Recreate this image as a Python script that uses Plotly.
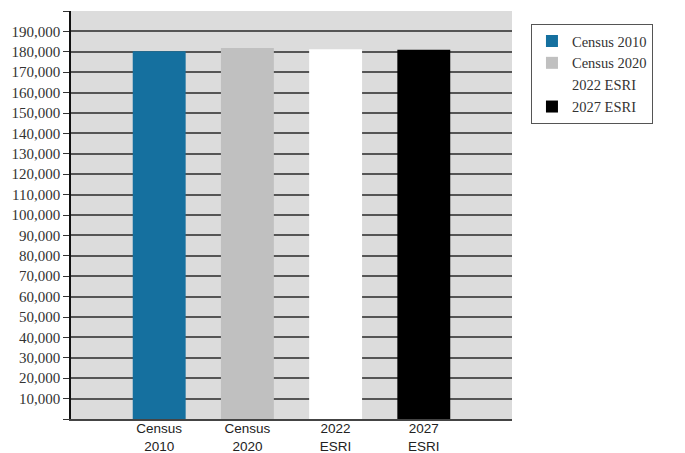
import plotly.graph_objects as go

categories = ["Census<br>2010", "Census<br>2020", "2022<br>ESRI", "2027<br>ESRI"]
series_names = ["Census 2010", "Census 2020", "2022 ESRI", "2027 ESRI"]
values = [180300, 181900, 181300, 181000]
colors = ["#15709f", "#c0c0c0", "#ffffff", "#000000"]
tick_values = list(range(0, 200001, 10000))
tick_labels = ["" if v in (0, 200000) else f"{v:,}" for v in tick_values]

fig = go.Figure()
for cat, name, val, col in zip(categories, series_names, values, colors):
    fig.add_trace(go.Bar(
        x=[cat], y=[val], name=name,
        marker=dict(color=col, line=dict(width=0)),
        width=0.6,
    ))

fig.update_layout(
    width=685, height=453,
    margin=dict(l=71, r=173, t=11, b=34),
    paper_bgcolor="white",
    plot_bgcolor="#dcdcdc",
    barmode="overlay",
    showlegend=True,
    legend=dict(
        x=1.043, y=0.968, xanchor="left", yanchor="top",
        bordercolor="#555555", borderwidth=1,
        font=dict(family="Liberation Serif", size=14.5, color="#333333"),
        tracegroupgap=0, itemsizing="constant",
    ),
)
fig.update_xaxes(
    categoryorder="array", categoryarray=categories,
    range=[-1, 4], automargin=False,
    showline=True, linecolor="#444444", linewidth=1.5,
    ticks="", showgrid=False, ticklabelstandoff=-4,
    tickfont=dict(family="Liberation Sans", size=13.5, color="#222222"),
)
fig.update_yaxes(
    range=[0, 200000], automargin=False,
    tickvals=tick_values, ticktext=tick_labels,
    showgrid=True, gridcolor="#555555", gridwidth=1.5,
    showline=True, linecolor="#111111", linewidth=1.5,
    ticks="outside", ticklen=6, tickcolor="#333333",
    tickfont=dict(family="Liberation Serif", size=15, color="#333333"),
    zeroline=False,
)
fig.write_html("out.html")
